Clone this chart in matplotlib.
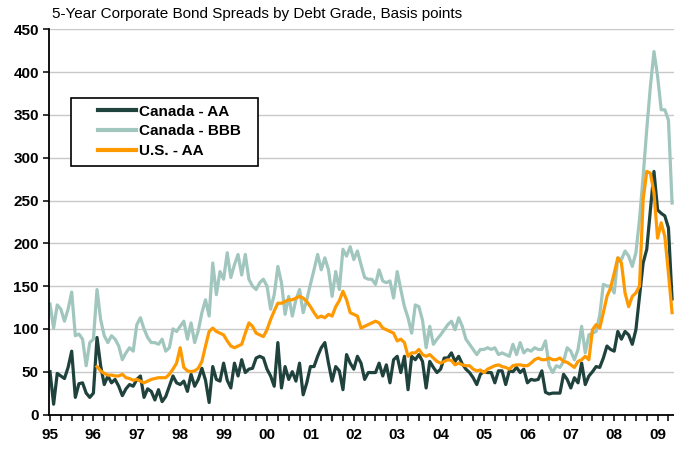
import numpy as np
import matplotlib
matplotlib.use("Agg")
import matplotlib.pyplot as plt
from matplotlib.patches import Rectangle
from matplotlib.ticker import MultipleLocator

plt.rcParams["font.family"] = ["Liberation Sans", "DejaVu Sans"]

# monthly spreads, basis points
canada_aa = [
    50, 12, 48, 45, 42, 55, 74, 20, 36, 37, 25, 20,      # 1995
    25, 90, 57, 35, 45, 37, 41, 33, 22, 30, 35, 33,      # 1996
    41, 45, 20, 30, 27, 17, 29, 15, 21, 33, 45, 37,      # 1997
    35, 39, 27, 47, 33, 41, 54, 40, 14, 56, 41, 39,      # 1998
    60, 40, 31, 60, 45, 64, 49, 53, 54, 66, 68, 66,      # 1999
    53, 45, 33, 84, 31, 56, 41, 50, 39, 60, 23, 37,      # 2000
    56, 56, 68, 78, 84, 60, 39, 56, 51, 29, 70, 60,      # 2001
    53, 68, 60, 41, 49, 49, 49, 60, 45, 58, 37, 64,      # 2002
    68, 49, 68, 29, 68, 64, 70, 62, 31, 62, 55, 49,      # 2003
    53, 66, 66, 72, 62, 68, 59, 53, 49, 43, 35, 47,      # 2004
    50, 49, 49, 37, 51, 51, 35, 51, 50, 55, 49, 53,      # 2005
    37, 41, 40, 41, 51, 26, 24, 25, 25, 25, 47, 41,      # 2006
    31, 43, 37, 60, 35, 45, 50, 56, 55, 66, 80, 76,      # 2007
    74, 97, 88, 97, 93, 82, 99, 138, 177, 193, 239, 284, # 2008
    239, 235, 232, 218, 135,                             # 2009
]
canada_bbb = [
    129, 101, 128, 123, 109, 123, 143, 92, 94, 88, 57, 84,
    88, 146, 111, 92, 84, 92, 88, 80, 64, 72, 78, 74,
    105, 113, 100, 90, 84, 84, 82, 88, 74, 78, 100, 97,
    103, 109, 88, 107, 84, 98, 119, 134, 115, 177, 140, 167,
    158, 189, 160, 175, 187, 163, 187, 158, 150, 146, 154, 158,
    150, 123, 140, 173, 154, 117, 138, 115, 134, 146, 119, 134,
    152, 169, 187, 169, 183, 169, 138, 167, 146, 193, 185, 196,
    181, 191, 175, 160, 158, 158, 152, 169, 156, 154, 156, 136,
    167, 146, 126, 113, 95, 128, 126, 110, 78, 103, 82, 88,
    93, 99, 105, 109, 99, 113, 103, 88, 82, 76, 70, 76,
    76, 78, 76, 78, 70, 72, 70, 68, 82, 70, 84, 72,
    76, 74, 78, 76, 76, 86, 57, 49, 57, 55, 62, 78,
    74, 64, 76, 103, 72, 93, 95, 97, 116, 152, 150, 150,
    142, 183, 181, 191, 185, 173, 189, 228, 278, 333, 383, 424,
    395, 356, 356, 344, 247,
]
# U.S. series starts Feb 1996
us_aa = [
    56, 51, 48, 46, 46, 45, 45, 47, 43, 42, 40,
    41, 39, 37, 39, 41, 42, 43, 43, 43, 47, 53, 60,
    78, 55, 51, 50, 51, 54, 62, 80, 97, 101, 97, 95,
    93, 86, 80, 78, 80, 82, 95, 107, 103, 95, 93, 91,
    99, 111, 121, 130, 130, 132, 134, 134, 136, 138, 136, 132,
    126, 119, 113, 115, 113, 117, 115, 126, 133, 144, 134, 119,
    117, 115, 101, 103, 105, 107, 109, 107, 101, 99, 97, 95,
    86, 88, 84, 68, 72, 72, 76, 70, 68, 70, 66, 62,
    60, 62, 64, 63, 58, 60, 58, 57, 57, 53, 51, 52,
    49, 53, 55, 57, 58, 56, 55, 53, 57, 58, 58, 57,
    57, 60, 64, 66, 64, 64, 66, 64, 64, 66, 62, 61,
    58, 55, 62, 64, 68, 64, 99, 105, 101, 119, 138, 148,
    165, 183, 177, 142, 126, 138, 142, 150, 251, 284, 282, 259,
    206, 224, 208, 165, 119,
]
year_labels = ["95", "96", "97", "98", "99", "00", "01", "02", "03", "04",
               "05", "06", "07", "08", "09"]

x_can = 1995 + np.arange(len(canada_aa)) / 12
x_us = 1996 + (1 + np.arange(len(us_aa))) / 12

fig = plt.figure(figsize=(6.74, 4.49), dpi=100)
ax = fig.add_axes([48.7 / 674, 1 - 414.5 / 449, 1 - 48.7 / 674, (414.5 - 29.3) / 449])

dark = "#1f423d"
light = "#a0c6be"
orange = "#ff9900"

l_bbb, = ax.plot(x_can, canada_bbb, color=light, lw=2.3, zorder=3, label="Canada - BBB")
l_aa, = ax.plot(x_can, canada_aa, color=dark, lw=2.3, zorder=4, label="Canada - AA")
l_us, = ax.plot(x_us, us_aa, color=orange, lw=2.3, zorder=5, label="U.S. - AA")

ax.set_xlim(1994.97, 2009.378)
ax.set_ylim(0, 450)
ax.yaxis.set_major_locator(MultipleLocator(50))
ax.set_xticks(np.arange(1995, 2010))
ax.set_xticklabels(year_labels)
ax.xaxis.set_minor_locator(MultipleLocator(0.25))
ax.grid(axis="y", color="#c8c8c8", lw=1)
ax.set_axisbelow(True)

for s in ["top", "right"]:
    ax.spines[s].set_visible(False)
for s in ["left", "bottom"]:
    ax.spines[s].set_linewidth(1.3)
    ax.spines[s].set_zorder(6)

ax.tick_params(axis="both", which="both", direction="out", length=4, width=1.1, color="black")
ax.tick_params(axis="x", which="major", pad=6)
ax.tick_params(axis="y", pad=3)
for lab in ax.get_xticklabels() + ax.get_yticklabels():
    lab.set_fontweight("bold")
    lab.set_fontsize(11)

fig.text(52 / 674, 1 - 14 / 449, "5-Year Corporate Bond Spreads by Debt Grade, Basis points",
         ha="left", va="center", fontsize=11)

# legend box drawn separately
fig.patches.append(Rectangle((71 / 674, 1 - 166 / 449), 187 / 674, 68 / 449,
                             transform=fig.transFigure, fill=True, facecolor="white",
                             edgecolor="black", lw=1.2, zorder=10))
leg = fig.legend(handles=[l_aa, l_bbb, l_us], loc="upper left",
                 bbox_to_anchor=(90 / 674, 1 - 97 / 449), frameon=False,
                 borderpad=0, handlelength=2.5, handletextpad=0.2, labelspacing=0.37,
                 prop={"weight": "bold", "size": 11})
leg.set_zorder(11)
for h in leg.get_lines():
    h.set_linewidth(3)

fig.savefig("out.png", dpi=100)
